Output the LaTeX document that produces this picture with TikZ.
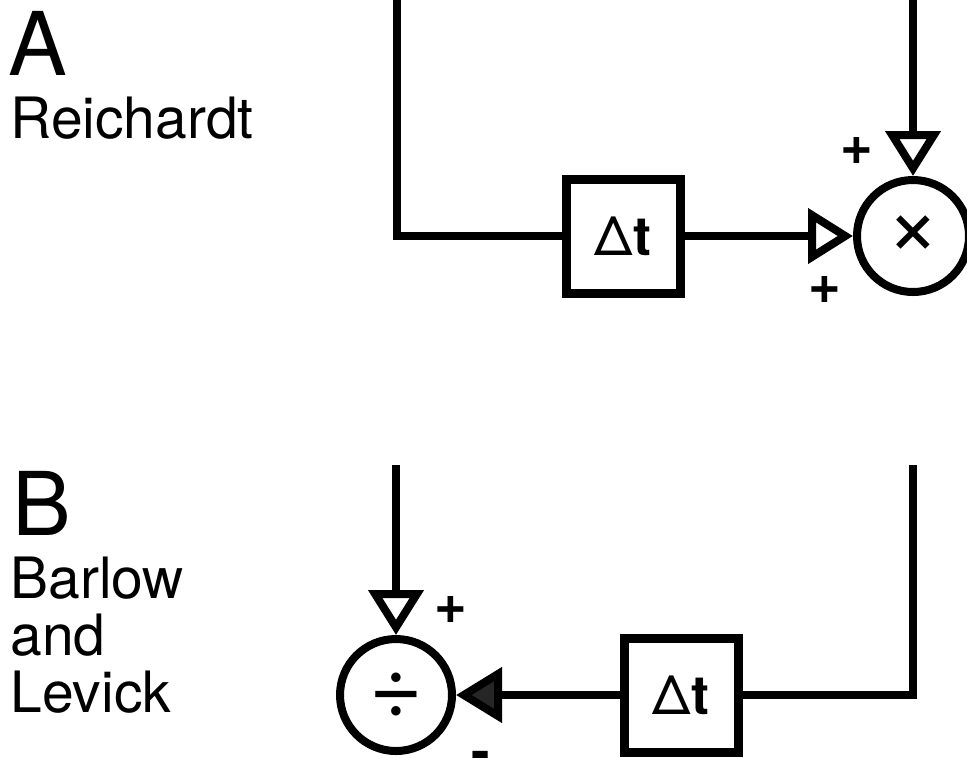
\documentclass[tikz,border=0pt]{standalone}
\usepackage{fontspec}
\setmainfont{TeX Gyre Heros}
\usepackage{tikz}
\usetikzlibrary{arrows.meta, positioning}
\tikzset{
  op node/.style={circle, draw, line width=4pt, minimum size=56pt, inner sep=0pt, font=\fontsize{46}{48}\selectfont},
  delay box/.style={rectangle, draw, line width=4.5pt, minimum size=57pt, inner sep=0pt, font=\fontsize{27}{30}\selectfont},
  wire/.style={line width=4pt},
  open arr/.style={wire, -{Triangle[open, length=22.5pt, width=27pt]}},
  fill arr/.style={wire, -{Triangle[length=23pt, width=27pt, fill=black!85]}},
  sign/.style={inner sep=0pt, font=\fontsize{28}{30}\selectfont\bfseries},
  panel letter/.style={anchor=base west, inner sep=0pt, font=\fontsize{44}{48}\selectfont},
  panel name/.style={anchor=base west, inner sep=0pt, align=left, font=\fontsize{28.5}{28.5}\selectfont},
}

\begin{document}
\begin{tikzpicture}[x=0.5pt, y=-0.5pt]
  \useasboundingbox (0,0) rectangle (967,757);

  % Panel A: Reichardt
  \node[panel letter] (letA) at (8,75) {A};
  \node[panel name] (nameA) at (10,138) {Reichardt};
  \node[delay box] (dtA) at (623,236) {Δ{\bfseries t}};
  \node[op node] (mult) at (913,236) {×};
  \coordinate (inA) at (397,0);
  \coordinate (inB) at (913,0);
  \node[sign] (plusA) at (857,151) {+};
  \node[sign] (plusB) at (825,290) {+};

  \draw[wire] (inA) |- (dtA.west);
  \draw[open arr] (dtA.east) -- (mult.west);
  \draw[open arr] (inB) -- (mult.north);

  % Panel B: Barlow and Levick
  \node[panel letter] (letB) at (12,535) {B};
  \node[panel name] (nameB) at (10,712) {Barlow\\and\\Levick};
  \node[op node] (divd) at (396,695) {÷};
  \node[delay box] (dtB) at (681,695) {Δ{\bfseries t}};
  \coordinate (inC) at (396,465);
  \coordinate (inD) at (913,465);
  \node[sign] (plusC) at (451,610) {+};
  \node[sign, anchor=base] (minusC) at (481,770) {-};

  \draw[open arr] (inC) -- (divd.north);
  \draw[wire] (inD) |- (dtB.east);
  \draw[fill arr] (dtB.west) -- (divd.east);
\end{tikzpicture}
\end{document}
